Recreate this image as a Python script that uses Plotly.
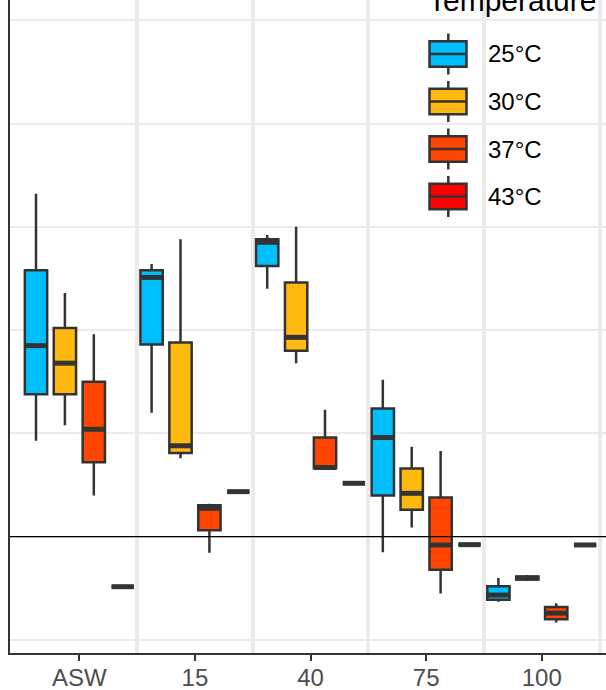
import plotly.graph_objects as go

# ---------------- data ----------------
categories = ["ASW", "15", "40", "75", "100"]
temperatures = ["25°C", "30°C", "37°C", "43°C"]
colors = ["#00BFFF", "#FFB90F", "#FF4500", "#FF0000"]

lower_25 = [0.93, 1.20, 2.40, -0.15, -0.63]
q1_25 = [1.38, 1.86, 2.62, 0.40, -0.61]
med_25 = [1.85, 2.51, 2.85, 0.96, -0.565]
q3_25 = [2.58, 2.58, 2.88, 1.24, -0.48]
upper_25 = [3.32, 2.64, 2.92, 1.52, -0.40]

lower_30 = [1.08, 0.76, 1.68, 0.09, -0.43]
q1_30 = [1.38, 0.81, 1.80, 0.26, -0.415]
med_30 = [1.68, 0.88, 1.93, 0.42, -0.40]
q3_30 = [2.02, 1.88, 2.46, 0.66, -0.385]
upper_30 = [2.36, 2.88, 3.00, 0.87, -0.37]

lower_37 = [0.40, -0.155, 0.65, -0.55, -0.83]
q1_37 = [0.72, 0.062, 0.662, -0.32, -0.80]
med_37 = [1.04, 0.275, 0.67, -0.08, -0.74]
q3_37 = [1.50, 0.304, 0.96, 0.38, -0.68]
upper_37 = [1.96, 0.32, 1.23, 0.83, -0.645]

lower_43 = [-0.484, 0.436, 0.517, -0.077, -0.08]
q1_43 = [-0.484, 0.436, 0.517, -0.077, -0.08]
med_43 = [-0.484, 0.436, 0.517, -0.077, -0.08]
q3_43 = [-0.484, 0.436, 0.517, -0.077, -0.08]
upper_43 = [-0.484, 0.436, 0.517, -0.077, -0.08]

stats = [
    (lower_25, q1_25, med_25, q3_25, upper_25),
    (lower_30, q1_30, med_30, q3_30, upper_30),
    (lower_37, q1_37, med_37, q3_37, upper_37),
    (lower_43, q1_43, med_43, q3_43, upper_43),
]

# ---------------- layout constants ----------------
W, H = 606, 690
ML, MB = 10, 37
PW, PH = W - ML, H - MB
DODGE = 0.25
BOXW = 0.193
OUTLINE = "#333333"
LW = 2.5

def pxx(x):
    return (x - ML) / PW

def pxy(y):
    return (PH - y) / PH

fig = go.Figure()
base = list(range(1, len(categories) + 1))

for i, (temp, col, st) in enumerate(zip(temperatures, colors, stats)):
    lo, q1, md, q3, up = st
    off = (i - 1.5) * DODGE
    xs = [b + off for b in base]
    fig.add_trace(go.Box(
        x=xs, lowerfence=lo, q1=q1, median=md, q3=q3, upperfence=up,
        width=BOXW, fillcolor=col, line=dict(color=OUTLINE, width=LW),
        whiskerwidth=0, boxpoints=False, name=temp, showlegend=False,
        hoverinfo="skip",
    ))

# fattened medians
for i, st in enumerate(stats):
    md = st[2]
    off = (i - 1.5) * DODGE
    mx, my = [], []
    for b, m in zip(base, md):
        mx += [b + off - BOXW / 2, b + off + BOXW / 2, None]
        my += [m, m, None]
    fig.add_trace(go.Scatter(x=mx, y=my, mode="lines",
                             line=dict(color=OUTLINE, width=5),
                             showlegend=False, hoverinfo="skip"))

shapes = []
# reference line at zero
shapes.append(dict(type="line", xref="paper", x0=0, x1=1.02, yref="y", y0=0, y1=0,
                   line=dict(color="black", width=1.3), layer="above"))

# custom legend keys
annotations = []
for i, (temp, col) in enumerate(zip(temperatures, colors)):
    cy = 54 + 47.5 * i
    shapes.append(dict(type="line", xref="paper", yref="paper",
                       x0=pxx(448.3), x1=pxx(448.3), y0=pxy(cy - 20.5), y1=pxy(cy + 20.5),
                       line=dict(color=OUTLINE, width=LW)))
    shapes.append(dict(type="rect", xref="paper", yref="paper",
                       x0=pxx(429.5), x1=pxx(466.5), y0=pxy(cy - 12.8), y1=pxy(cy + 12.8),
                       fillcolor=col, line=dict(color=OUTLINE, width=LW)))
    shapes.append(dict(type="line", xref="paper", yref="paper",
                       x0=pxx(429.5), x1=pxx(466.5), y0=pxy(cy), y1=pxy(cy),
                       line=dict(color=OUTLINE, width=LW)))
    annotations.append(dict(text=temp, xref="paper", yref="paper", x=pxx(486), y=pxy(cy),
                            xanchor="left", yanchor="middle", showarrow=False,
                            font=dict(size=24, color="black")))

annotations.append(dict(text="Temperature", xref="paper", yref="paper", x=pxx(426), y=pxy(0),
                        xanchor="left", yanchor="middle", showarrow=False,
                        font=dict(size=30, color="black")))

fig.update_layout(
    width=W, height=H,
    margin=dict(l=ML, r=0, t=0, b=MB, pad=0, autoexpand=False),
    paper_bgcolor="white", plot_bgcolor="white",
    font=dict(family="Liberation Sans, Arial, sans-serif", color="black"),
    shapes=shapes, annotations=annotations,
    xaxis=dict(
        range=[0.4, 0.4 + PW / 115.6], tickmode="array", tickvals=base, ticktext=categories,
        showgrid=False, zeroline=False, automargin=False,
        showline=True, linecolor=OUTLINE, linewidth=2,
        ticks="outside", ticklen=6, tickwidth=2, tickcolor=OUTLINE,
        ticklabelstandoff=-4,
        tickfont=dict(size=24, color="#4D4D4D"),
        minor=dict(tickvals=[1.5, 2.5, 3.5, 4.5, 5.5], showgrid=True,
                   gridcolor="#EBEBEB", gridwidth=4, ticks=""),
    ),
    yaxis=dict(
        range=[-(PH - 536.7) / 103.3, 536.7 / 103.3], tick0=0, dtick=1,
        showgrid=True, gridcolor="#EBEBEB", gridwidth=1.5,
        zeroline=False, showticklabels=False, ticks="", automargin=False,
        showline=True, linecolor=OUTLINE, linewidth=2,
    ),
)

fig.write_html(
    "out.html",
    config={"displayModeBar": False},
    post_script="document.body.style.margin='0';document.body.style.overflow='hidden';",
)
